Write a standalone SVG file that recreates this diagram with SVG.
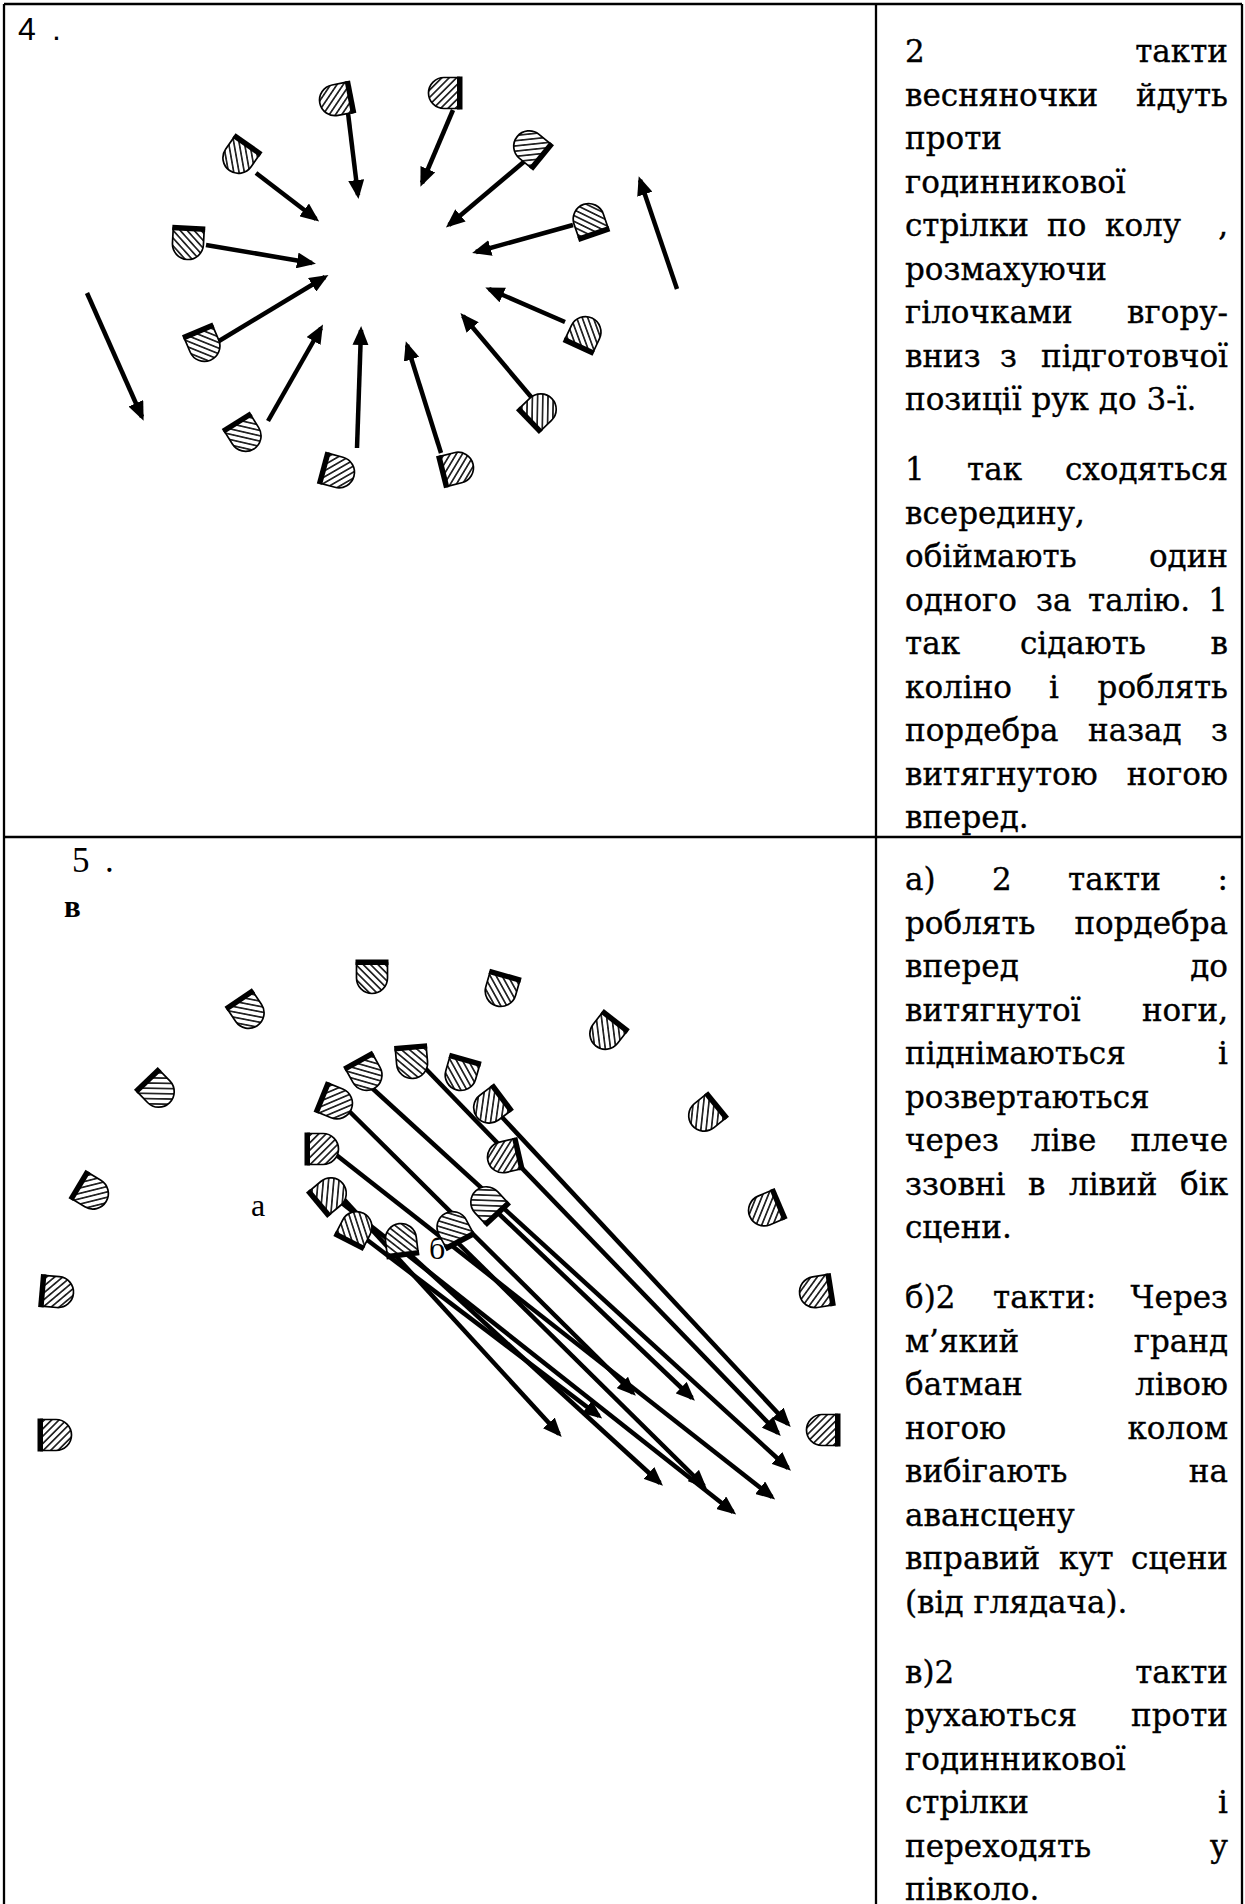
<svg xmlns="http://www.w3.org/2000/svg" xmlns:xlink="http://www.w3.org/1999/xlink" width="1245" height="1904" viewBox="0 0 1245 1904">
<style>
.t{font-family:"DejaVu Serif",serif;font-size:31px;fill:#000;stroke:#000;stroke-width:0.35}
.e{text-anchor:end}
.num{font-family:"Liberation Serif",serif;fill:#000}
.arr{stroke:#000;stroke-width:4.5;fill:none;marker-end:url(#ah)}
.grid{stroke:#000;stroke-width:2.3;fill:none}
</style>
<defs>
<pattern id="hatch" patternUnits="userSpaceOnUse" width="5.2" height="5.2" patternTransform="rotate(-45)">
<rect width="5.2" height="5.2" fill="#fff"/>
<line x1="2.6" y1="0" x2="2.6" y2="5.2" stroke="#000" stroke-width="1.5"/>
</pattern>
<marker id="ah" markerUnits="userSpaceOnUse" markerWidth="19" markerHeight="16" viewBox="0 0 19 16" refX="15" refY="8" orient="auto">
<path d="M0,0 L19,8 L0,16 Z" fill="#000"/>
</marker>
<g id="dancer">
<path d="M-15.5,-14 H15.5 V1 A15.5,15.5 0 0 1 -15.5,1 Z" fill="url(#hatch)" stroke="#000" stroke-width="1.7"/>
<rect x="-16.5" y="-17.5" width="33" height="5.5" fill="#000"/>
</g>
</defs>
<rect width="1245" height="1904" fill="#fff"/>

<g id="table">
<line class="grid" x1="4" y1="4" x2="1242" y2="4"/>
<line class="grid" x1="4" y1="4" x2="4" y2="1904"/>
<line class="grid" x1="1242" y1="4" x2="1242" y2="1904"/>
<line class="grid" x1="876" y1="4" x2="876" y2="1904"/>
<line class="grid" x1="4" y1="837" x2="1242" y2="837"/>
</g>

<g id="labels">
<text x="18" y="40" font-family="Liberation Sans, sans-serif" font-size="32" fill="#000">4</text>
<text x="52" y="40" font-family="Liberation Sans, sans-serif" font-size="32" fill="#000">.</text>
<text class="num" x="72" y="872" font-size="35">5</text>
<text class="num" x="105" y="872" font-size="35">.</text>
<text class="num" x="64" y="917" font-size="31" font-weight="bold">в</text>
<text class="num" x="251" y="1216" font-size="32">а</text>
<text class="num" x="429" y="1259" font-size="32">б</text>
</g>

<g id="connectors">
<line class="arr" x1="348" y1="113" x2="358" y2="195"/>
<line class="arr" x1="453" y1="110" x2="422" y2="183"/>
<line class="arr" x1="526" y1="160" x2="449" y2="225"/>
<line class="arr" x1="573" y1="225" x2="476" y2="252"/>
<line class="arr" x1="565" y1="322" x2="489" y2="289"/>
<line class="arr" x1="532" y1="398" x2="463" y2="316"/>
<line class="arr" x1="441" y1="453" x2="407" y2="345"/>
<line class="arr" x1="357" y1="448" x2="361" y2="330"/>
<line class="arr" x1="268" y1="421" x2="321" y2="328"/>
<line class="arr" x1="219" y1="341" x2="325" y2="277"/>
<line class="arr" x1="206" y1="245" x2="312" y2="263"/>
<line class="arr" x1="256" y1="173" x2="316" y2="219"/>
<line class="arr" x1="87" y1="293" x2="142" y2="417"/>
<line class="arr" x1="677" y1="289" x2="640" y2="180"/>

<line class="arr" x1="500" y1="1115" x2="788" y2="1424"/>
<line class="arr" x1="425" y1="1068" x2="778" y2="1433"/>
<line class="arr" x1="372" y1="1088" x2="788" y2="1468"/>
<line class="arr" x1="348" y1="1110" x2="633" y2="1393"/>
<line class="arr" x1="495" y1="1210" x2="692" y2="1398"/>
<line class="arr" x1="330" y1="1150" x2="772" y2="1497"/>
<line class="arr" x1="338" y1="1200" x2="733" y2="1512"/>
<line class="arr" x1="340" y1="1195" x2="559" y2="1434"/>
<line class="arr" x1="362" y1="1236" x2="599" y2="1416"/>
<line class="arr" x1="405" y1="1250" x2="660" y2="1483"/>
<line class="arr" x1="455" y1="1240" x2="704" y2="1486"/>
</g>

<g id="s4-dancers">
<g id="s4-a" transform="translate(336,100) rotate(79)"><use xlink:href="#dancer" href="#dancer"/></g>
<g id="s4-b" transform="translate(445,93) rotate(90)"><use xlink:href="#dancer" href="#dancer"/></g>
<g id="s4-c" transform="translate(530,147) rotate(129)"><use xlink:href="#dancer" href="#dancer"/></g>
<g id="s4-d" transform="translate(589,220) rotate(161)"><use xlink:href="#dancer" href="#dancer"/></g>
<g id="s4-e" transform="translate(585,333) rotate(205)"><use xlink:href="#dancer" href="#dancer"/></g>
<g id="s4-f" transform="translate(540,410) rotate(226)"><use xlink:href="#dancer" href="#dancer"/></g>
<g id="s4-g" transform="translate(457,468) rotate(256)"><use xlink:href="#dancer" href="#dancer"/></g>
<g id="s4-h" transform="translate(338,472) rotate(285)"><use xlink:href="#dancer" href="#dancer"/></g>
<g id="s4-i" transform="translate(245,435) rotate(328)"><use xlink:href="#dancer" href="#dancer"/></g>
<g id="s4-j" transform="translate(204,345) rotate(337)"><use xlink:href="#dancer" href="#dancer"/></g>
<g id="s4-k" transform="translate(188,243) rotate(3)"><use xlink:href="#dancer" href="#dancer"/></g>
<g id="s4-l" transform="translate(239,157) rotate(35)"><use xlink:href="#dancer" href="#dancer"/></g>
</g>

<g id="s5-dancers">
<g id="s5-p1" transform="translate(372,977) rotate(0)"><use xlink:href="#dancer" href="#dancer"/></g>
<g id="s5-p2" transform="translate(501,990) rotate(16)"><use xlink:href="#dancer" href="#dancer"/></g>
<g id="s5-p3" transform="translate(606,1033) rotate(38)"><use xlink:href="#dancer" href="#dancer"/></g>
<g id="s5-p4" transform="translate(705,1115) rotate(51)"><use xlink:href="#dancer" href="#dancer"/></g>
<g id="s5-p5" transform="translate(765,1210) rotate(67)"><use xlink:href="#dancer" href="#dancer"/></g>
<g id="s5-p6" transform="translate(816,1292) rotate(81)"><use xlink:href="#dancer" href="#dancer"/></g>
<g id="s5-p7" transform="translate(823,1430) rotate(90)"><use xlink:href="#dancer" href="#dancer"/></g>
<g id="s5-p8" transform="translate(248,1012) rotate(-34)"><use xlink:href="#dancer" href="#dancer"/></g>
<g id="s5-p9" transform="translate(158,1091) rotate(-44)"><use xlink:href="#dancer" href="#dancer"/></g>
<g id="s5-p10" transform="translate(92,1193) rotate(-59)"><use xlink:href="#dancer" href="#dancer"/></g>
<g id="s5-p11" transform="translate(57,1292) rotate(-85)"><use xlink:href="#dancer" href="#dancer"/></g>
<g id="s5-p12" transform="translate(55,1435) rotate(-90)"><use xlink:href="#dancer" href="#dancer"/></g>
<g id="s5-q1" transform="translate(366,1074) rotate(-29)"><use xlink:href="#dancer" href="#dancer"/></g>
<g id="s5-q2" transform="translate(412,1062) rotate(-5)"><use xlink:href="#dancer" href="#dancer"/></g>
<g id="s5-q3" transform="translate(461,1074) rotate(16)"><use xlink:href="#dancer" href="#dancer"/></g>
<g id="s5-q4" transform="translate(490,1107) rotate(53)"><use xlink:href="#dancer" href="#dancer"/></g>
<g id="s5-q5" transform="translate(504,1157) rotate(77)"><use xlink:href="#dancer" href="#dancer"/></g>
<g id="s5-q6" transform="translate(336,1103) rotate(-68)"><use xlink:href="#dancer" href="#dancer"/></g>
<g id="s5-q7" transform="translate(322,1149) rotate(-90)"><use xlink:href="#dancer" href="#dancer"/></g>
<g id="s5-q8" transform="translate(330,1194) rotate(230)"><use xlink:href="#dancer" href="#dancer"/></g>
<g id="s5-q9" transform="translate(356,1228) rotate(207)"><use xlink:href="#dancer" href="#dancer"/></g>
<g id="s5-q10" transform="translate(401,1240) rotate(173)"><use xlink:href="#dancer" href="#dancer"/></g>
<g id="s5-q11" transform="translate(453,1228) rotate(152)"><use xlink:href="#dancer" href="#dancer"/></g>
<g id="s5-q12" transform="translate(487,1203) rotate(137)"><use xlink:href="#dancer" href="#dancer"/></g>
</g>

<g id="desc4">
<text class="t" x="905" y="62">2</text><text class="t e" x="1228" y="62">такти</text>
<text class="t" x="905" y="105.5">весняночки</text><text class="t e" x="1228" y="105.5">йдуть</text>
<text class="t" x="905" y="149">проти</text>
<text class="t" x="905" y="192.5">годинникової</text>
<text class="t" x="905" y="236">стрілки</text><text class="t" x="1047" y="236">по</text><text class="t" x="1105" y="236">колу</text><text class="t e" x="1228" y="236">,</text>
<text class="t" x="905" y="279.5">розмахуючи</text>
<text class="t" x="905" y="323">гілочками</text><text class="t e" x="1228" y="323">вгору-</text>
<text class="t" x="905" y="366.5">вниз</text><text class="t" x="1000" y="366.5">з</text><text class="t e" x="1228" y="366.5">підготовчої</text>
<text class="t" x="905" y="410">позиції рук до 3-ї.</text>
<text class="t" x="905" y="480">1</text><text class="t" x="967" y="480">так</text><text class="t e" x="1228" y="480">сходяться</text>
<text class="t" x="905" y="523.5">всередину,</text>
<text class="t" x="905" y="567">обіймають</text><text class="t e" x="1228" y="567">один</text>
<text class="t" x="905" y="610.5">одного</text><text class="t" x="1036" y="610.5">за</text><text class="t" x="1088" y="610.5">талію.</text><text class="t e" x="1228" y="610.5">1</text>
<text class="t" x="905" y="654">так</text><text class="t" x="1020" y="654">сідають</text><text class="t e" x="1228" y="654">в</text>
<text class="t" x="905" y="697.5">коліно</text><text class="t" x="1049" y="697.5">і</text><text class="t e" x="1228" y="697.5">роблять</text>
<text class="t" x="905" y="741">пордебра</text><text class="t" x="1088" y="741">назад</text><text class="t e" x="1228" y="741">з</text>
<text class="t" x="905" y="784.5">витягнутою</text><text class="t e" x="1228" y="784.5">ногою</text>
<text class="t" x="905" y="828">вперед.</text>
</g>

<g id="desc5">
<text class="t" x="905" y="890">а)</text><text class="t" x="992" y="890">2</text><text class="t" x="1068" y="890">такти</text><text class="t e" x="1228" y="890">:</text>
<text class="t" x="905" y="933.5">роблять</text><text class="t e" x="1228" y="933.5">пордебра</text>
<text class="t" x="905" y="977">вперед</text><text class="t e" x="1228" y="977">до</text>
<text class="t" x="905" y="1020.5">витягнутої</text><text class="t e" x="1228" y="1020.5">ноги,</text>
<text class="t" x="905" y="1064">піднімаються</text><text class="t e" x="1228" y="1064">і</text>
<text class="t" x="905" y="1107.5">розвертаються</text>
<text class="t" x="905" y="1151">через</text><text class="t" x="1031" y="1151">ліве</text><text class="t e" x="1228" y="1151">плече</text>
<text class="t" x="905" y="1194.5">ззовні</text><text class="t" x="1028" y="1194.5">в</text><text class="t" x="1069" y="1194.5">лівий</text><text class="t e" x="1228" y="1194.5">бік</text>
<text class="t" x="905" y="1238">сцени.</text>
<text class="t" x="905" y="1308">б)2</text><text class="t" x="993" y="1308">такти:</text><text class="t e" x="1228" y="1308">Через</text>
<text class="t" x="905" y="1351.5">м’який</text><text class="t e" x="1228" y="1351.5">гранд</text>
<text class="t" x="905" y="1395">батман</text><text class="t e" x="1228" y="1395">лівою</text>
<text class="t" x="905" y="1438.5">ногою</text><text class="t e" x="1228" y="1438.5">колом</text>
<text class="t" x="905" y="1482">вибігають</text><text class="t e" x="1228" y="1482">на</text>
<text class="t" x="905" y="1525.5">авансцену</text>
<text class="t" x="905" y="1569">вправий</text><text class="t" x="1059" y="1569">кут</text><text class="t e" x="1228" y="1569">сцени</text>
<text class="t" x="905" y="1612.5">(від глядача).</text>
<text class="t" x="905" y="1682.5">в)2</text><text class="t e" x="1228" y="1682.5">такти</text>
<text class="t" x="905" y="1726">рухаються</text><text class="t e" x="1228" y="1726">проти</text>
<text class="t" x="905" y="1769.5">годинникової</text>
<text class="t" x="905" y="1813">стрілки</text><text class="t e" x="1228" y="1813">і</text>
<text class="t" x="905" y="1856.5">переходять</text><text class="t e" x="1228" y="1856.5">у</text>
<text class="t" x="905" y="1900">півколо.</text>
</g>
</svg>
